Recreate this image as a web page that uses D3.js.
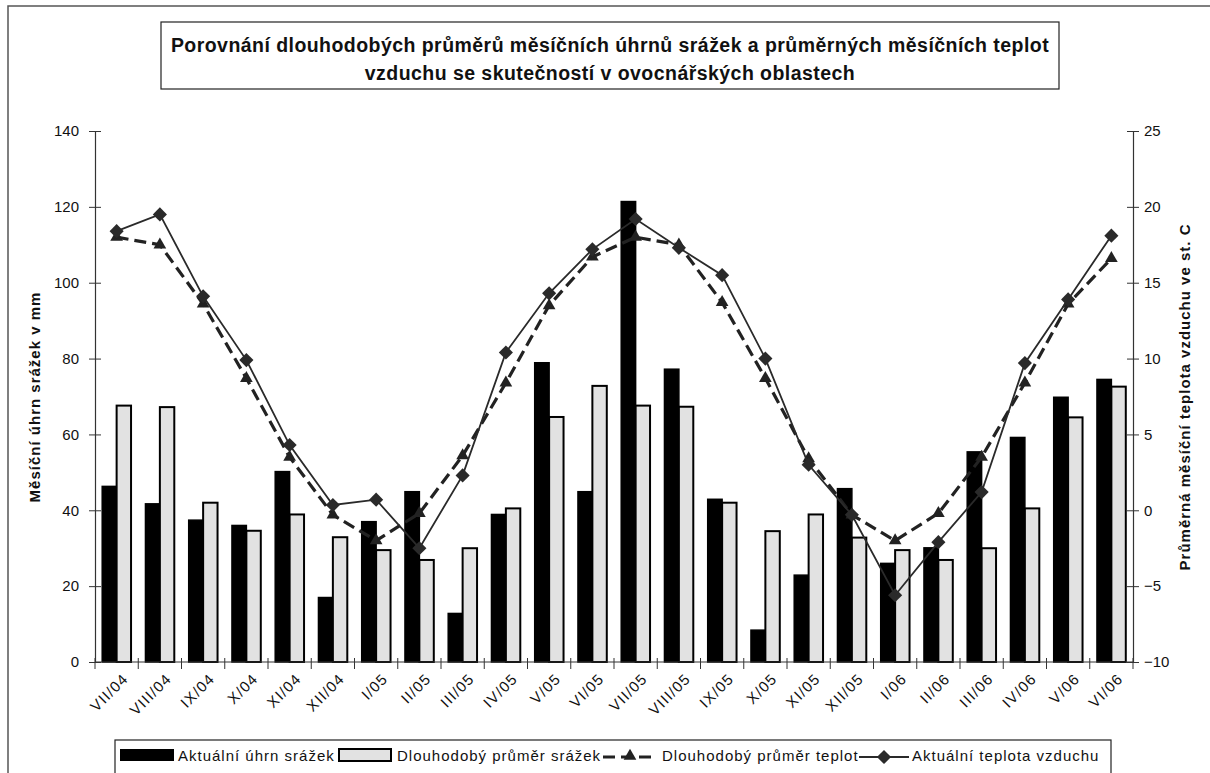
<!DOCTYPE html>
<html>
<head>
<meta charset="utf-8">
<script src="https://cdnjs.cloudflare.com/ajax/libs/d3/7.8.5/d3.min.js"></script>
<style>
  body { margin: 0; background: #fff; }
  text { font-family: "Liberation Sans", Arial, sans-serif; fill: #111; }
</style>
</head>
<body>
<div id="chart"></div>
<script>
// data
var months = ["VII/04","VIII/04","IX/04","X/04","XI/04","XII/04","I/05","II/05","III/05","IV/05","V/05","VI/05",
              "VII/05","VIII/05","IX/05","X/05","XI/05","XII/05","I/06","II/06","III/06","IV/06","V/06","VI/06"];
var srazkyAkt = [46.3, 41.7, 37.4, 36.0, 50.2, 17.0, 37.0, 44.9, 12.8, 38.9, 78.9, 44.9,
                 121.4, 77.2, 42.9, 8.4, 22.9, 45.7, 26.0, 30.1, 55.4, 59.2, 69.8, 74.5];
var srazkyPrum = [67.6, 67.2, 42.0, 34.6, 38.9, 32.9, 29.5, 26.9, 30.0, 40.5, 64.6, 72.8,
                  67.6, 67.3, 42.0, 34.5, 38.9, 32.8, 29.5, 26.9, 30.0, 40.5, 64.5, 72.6];
var teplotaPrum = [18.0, 17.5, 13.6, 8.7, 3.5, -0.3, -2.0, -0.2, 3.6, 8.4, 13.5, 16.7,
                   18.0, 17.5, 13.7, 8.7, 3.4, -0.3, -2.0, -0.2, 3.5, 8.4, 13.6, 16.6];
var teplotaAkt = [18.4, 19.5, 14.1, 9.9, 4.3, 0.35, 0.7, -2.5, 2.3, 10.4, 14.3, 17.2,
                  19.2, 17.3, 15.5, 10.0, 3.0, -0.3, -5.6, -2.1, 1.2, 9.7, 13.9, 18.1];
var leftTicks = [0, 20, 40, 60, 80, 100, 120, 140];
var rightTicks = [-10, -5, 0, 5, 10, 15, 20, 25];
var titleLines = ["Porovnání dlouhodobých průměrů měsíčních úhrnů srážek a průměrných měsíčních teplot",
                  "vzduchu se skutečností v ovocnářských oblastech"];
var legendNames = ["Aktuální úhrn srážek", "Dlouhodobý průměr srážek", "Dlouhodobý průměr teplot", "Aktuální teplota vzduchu"];

function main() {
   var W = 1210, H = 773;
   var left = 95, right = 1133, top = 131, bottom = 662;

   var svg = d3.select("#chart").append("svg")
      .attr("width", W)
      .attr("height", H);

   // outer frame
   svg.append("rect")
      .attr("x", 8).attr("y", 6)
      .attr("width", W + 20).attr("height", H + 20)
      .attr("fill", "none").attr("stroke", "#555").attr("stroke-width", 1.5);

   // title box
   svg.append("rect")
      .attr("x", 161).attr("y", 22).attr("width", 898).attr("height", 67)
      .attr("fill", "#fff").attr("stroke", "#222").attr("stroke-width", 1.2);
   svg.selectAll(".title").data(titleLines).enter().append("text")
      .attr("x", 610)
      .attr("y", function(d, i) { return 52 + i * 28; })
      .attr("text-anchor", "middle")
      .style("font-size", "19.5px").style("font-weight", "bold").style("letter-spacing", "0.45px")
      .text(function(d) { return d; });

   var x = d3.scaleBand().domain(months).range([left, right]);
   var x1 = d3.scaleBand().domain(["akt", "prum"])
      .range([x.bandwidth() / 6, x.bandwidth() * 5 / 6]);
   var y = d3.scaleLinear().domain([0, 140]).range([bottom, top]);
   var y2 = d3.scaleLinear().domain([-10, 25]).range([bottom, top]);

   // bars
   svg.selectAll(".barA").data(srazkyAkt).enter().append("rect")
      .attr("x", function(d, i) { return x(months[i]) + x1("akt"); })
      .attr("y", function(d) { return y(d); })
      .attr("width", x1.bandwidth())
      .attr("height", function(d) { return bottom - y(d); })
      .attr("fill", "#000").attr("stroke", "#000").attr("stroke-width", 1.5);
   svg.selectAll(".barP").data(srazkyPrum).enter().append("rect")
      .attr("x", function(d, i) { return x(months[i]) + x1("prum"); })
      .attr("y", function(d) { return y(d); })
      .attr("width", x1.bandwidth())
      .attr("height", function(d) { return bottom - y(d); })
      .attr("fill", "#e2e2e2").attr("stroke", "#000").attr("stroke-width", 2);

   var cx = function(d, i) { return x(months[i]) + x.bandwidth() / 2; };

   // long-term temperature, dashed with triangles
   var linePrum = d3.line().x(cx).y(function(d) { return y2(d); });
   svg.append("path").datum(teplotaPrum)
      .attr("d", linePrum)
      .attr("fill", "none").attr("stroke", "#222")
      .attr("stroke-width", 3.2).attr("stroke-dasharray", "12,6");
   svg.selectAll(".tri").data(teplotaPrum).enter().append("path")
      .attr("d", d3.symbol().type(d3.symbolTriangle).size(70))
      .attr("transform", function(d, i) { return "translate(" + cx(d, i) + "," + y2(d) + ")"; })
      .attr("fill", "#222");

   // actual temperature, solid with diamonds
   var lineAkt = d3.line().x(cx).y(function(d) { return y2(d); });
   svg.append("path").datum(teplotaAkt)
      .attr("d", lineAkt)
      .attr("fill", "none").attr("stroke", "#2a2a2a").attr("stroke-width", 1.8);
   svg.selectAll(".dia").data(teplotaAkt).enter().append("rect")
      .attr("x", -5).attr("y", -5).attr("width", 10).attr("height", 10)
      .attr("transform", function(d, i) { return "translate(" + cx(d, i) + "," + y2(d) + ") rotate(45)"; })
      .attr("fill", "#2a2a2a");

   // left axis
   var yAxis = d3.axisLeft(y).tickValues(leftTicks).tickSizeOuter(0).tickSizeInner(6).tickPadding(10);
   var gL = svg.append("g").attr("transform", "translate(" + left + ",0)").call(yAxis);
   gL.selectAll(".tick line").attr("x1", -6).attr("x2", 6);
   // right axis
   var yAxis2 = d3.axisRight(y2).tickValues(rightTicks).tickSizeOuter(0).tickSizeInner(6).tickPadding(5);
   var gR = svg.append("g").attr("transform", "translate(" + right + ",0)").call(yAxis2);
   gR.selectAll(".tick line").attr("x1", -6).attr("x2", 6);
   // x axis: baseline, separators between months, rotated labels
   var gX = svg.append("g").attr("transform", "translate(0," + bottom + ")");
   gX.append("line").attr("class", "domain")
      .attr("x1", left).attr("x2", right).attr("y1", 0).attr("y2", 0);
   gX.selectAll(".sep").data(months.concat(["end"])).enter().append("line")
      .attr("x1", function(d, i) { return left + i * x.step(); })
      .attr("x2", function(d, i) { return left + i * x.step(); })
      .attr("y1", -4).attr("y2", 7)
      .attr("stroke", "#333");
   gX.selectAll(".xl").data(months).enter().append("g")
      .attr("transform", function(d, i) {
         return "translate(" + (cx(d, i) + 9) + ",14)";
      })
      .append("text")
      .attr("transform", "rotate(-45)")
      .attr("text-anchor", "end")
      .attr("dy", "0.35em")
      .style("font-size", "15px").style("letter-spacing", "1.2px")
      .text(function(d) { return d; });

   svg.selectAll(".domain").attr("stroke", "#333").attr("stroke-width", 1.2);
   svg.selectAll(".tick line").attr("stroke", "#333");
   gL.selectAll(".tick text").style("font-size", "15px");
   gR.selectAll(".tick text").style("font-size", "15px");

   // axis titles
   svg.append("text")
      .attr("transform", "translate(40,397) rotate(-90)")
      .attr("text-anchor", "middle")
      .style("font-size", "15px").style("font-weight", "bold").style("letter-spacing", "1px")
      .text("Měsíční úhrn srážek v mm");
   svg.append("text")
      .attr("transform", "translate(1190,397) rotate(-90)")
      .attr("text-anchor", "middle")
      .style("font-size", "15px").style("font-weight", "bold").style("letter-spacing", "1px")
      .text("Průměrná měsíční teplota vzduchu ve st. C");

   // legend
   var lg = svg.append("g");
   lg.append("rect")
      .attr("x", 115).attr("y", 740).attr("width", 996).attr("height", 40)
      .attr("fill", "#fff").attr("stroke", "#222").attr("stroke-width", 1.2);
   var lx = [120, 339, 603, 859];
   var tx = [178, 397, 662, 912];
   var ly = 755;
   lg.append("rect").attr("x", lx[0]).attr("y", ly - 6).attr("width", 54).attr("height", 12).attr("fill", "#000");
   lg.append("rect").attr("x", lx[1]).attr("y", ly - 6).attr("width", 52).attr("height", 12)
      .attr("fill", "#e2e2e2").attr("stroke", "#000").attr("stroke-width", 2);
   lg.append("line").attr("x1", lx[2]).attr("x2", lx[2] + 54).attr("y1", ly + 2).attr("y2", ly + 2)
      .attr("stroke", "#222").attr("stroke-width", 3.2).attr("stroke-dasharray", "12,6");
   lg.append("path").attr("d", d3.symbol().type(d3.symbolTriangle).size(70))
      .attr("transform", "translate(" + (lx[2] + 27) + "," + (ly + 1) + ")").attr("fill", "#222");
   lg.append("line").attr("x1", lx[3]).attr("x2", lx[3] + 50).attr("y1", ly + 2).attr("y2", ly + 2)
      .attr("stroke", "#2a2a2a").attr("stroke-width", 1.8);
   lg.append("rect").attr("x", -5).attr("y", -5).attr("width", 10).attr("height", 10)
      .attr("transform", "translate(" + (lx[3] + 25) + "," + (ly + 2) + ") rotate(45)").attr("fill", "#2a2a2a");
   lg.selectAll(".lt").data(legendNames).enter().append("text")
      .attr("x", function(d, i) { return tx[i]; })
      .attr("y", ly + 6)
      .style("font-size", "15px").style("letter-spacing", "1px")
      .text(function(d) { return d; });
}

main();
</script>
</body>
</html>
